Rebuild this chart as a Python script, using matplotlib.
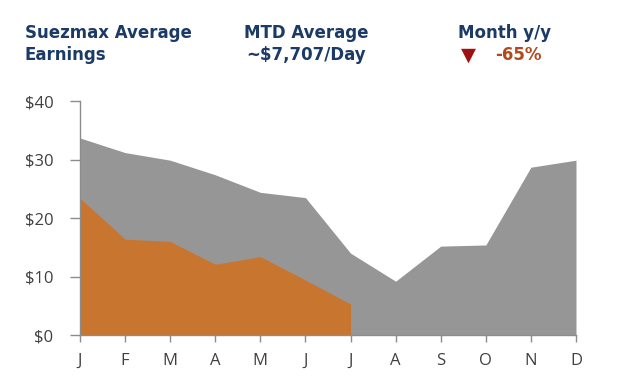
import matplotlib
matplotlib.use("Agg")
import matplotlib.pyplot as plt
import numpy as np

# Monthly earnings, $ thousand/day
months = ["J", "F", "M", "A", "M", "J", "J", "A", "S", "O", "N", "D"]
prior_year = [33.7, 31.2, 29.9, 27.4, 24.4, 23.5, 14.0, 9.2, 15.2, 15.4, 28.7, 29.9]
current_year = [23.4, 16.4, 16.0, 12.1, 13.4, 9.4, 5.3]
yticks = [0, 10, 20, 30, 40]

navy = "#1b3a66"
gray = "#969696"
orange = "#c8762f"

fig = plt.figure(figsize=(6.4, 3.92), dpi=100)
ax = fig.add_axes([0.125, 0.1454, 0.775, 0.5966])

x_all = np.arange(len(prior_year))
x_cur = np.arange(len(current_year))
ax.fill_between(x_all, 0, prior_year, color=gray, linewidth=0)
ax.fill_between(x_cur, 0, current_year, color=orange, linewidth=0)

ax.set_xlim(0, len(months) - 1)
ax.set_ylim(0, 40)
ax.set_xticks(np.arange(len(months)))
ax.set_xticklabels(months)
ax.set_yticks(yticks)
ax.set_yticklabels(["$%d" % v for v in yticks])

for side in ["top", "right"]:
    ax.spines[side].set_visible(False)
for side in ["left", "bottom"]:
    ax.spines[side].set_color("#8c8c8c")
    ax.spines[side].set_linewidth(1.0)
ax.tick_params(axis="both", colors="#8c8c8c", width=1.0,
               labelcolor="#404040", labelsize=12)
ax.tick_params(axis="x", length=5, pad=8)
ax.tick_params(axis="y", length=7, pad=12)
for lbl in ax.get_xticklabels() + ax.get_yticklabels():
    lbl.set_fontfamily("Open Sans")

# header text
hdr = dict(color=navy, fontsize=12, fontweight="bold", va="center")
fig.text(25 / 640, 1 - 33 / 392, "Suezmax Average", ha="left", **hdr)
fig.text(25 / 640, 1 - 55 / 392, "Earnings", ha="left", **hdr)
fig.text(306 / 640, 1 - 33 / 392, "MTD Average", ha="center", **hdr)
fig.text(306 / 640, 1 - 55 / 392, "~$7,707/Day", ha="center", **hdr)
fig.text(505 / 640, 1 - 33 / 392, "Month y/y", ha="center", **hdr)
fig.text(468 / 640, 1 - 55 / 392, "\u25bc", ha="center", va="center",
         color="#a01010", fontsize=14)
fig.text(518 / 640, 1 - 55 / 392, "-65%", ha="center", va="center",
         color="#b04a1e", fontsize=12, fontweight="bold")

fig.savefig("out.png", dpi=100)
